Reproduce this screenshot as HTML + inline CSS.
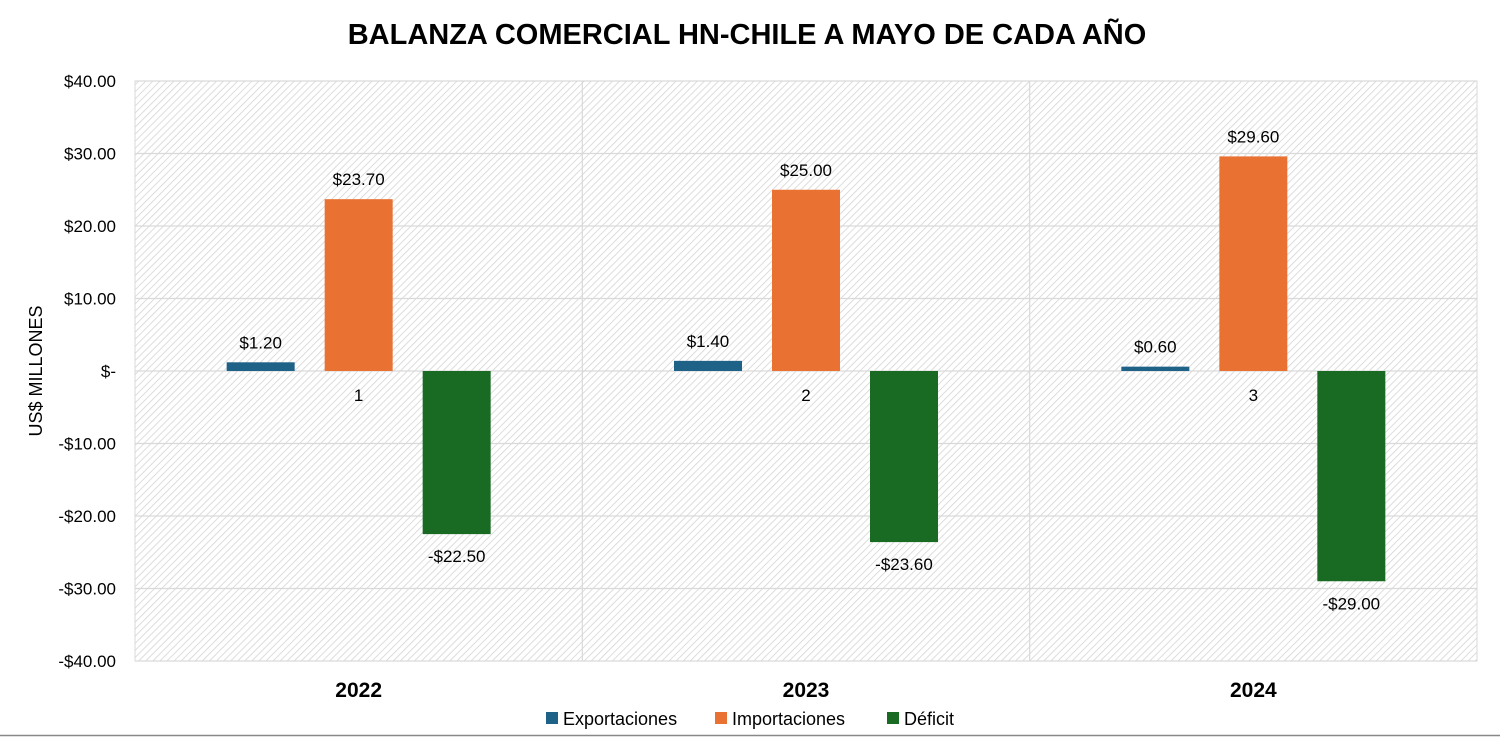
<!DOCTYPE html>
<html><head><meta charset="utf-8"><style>
body{margin:0;background:#fff;}
svg{display:block;font-family:"Liberation Sans",Arial,sans-serif;}
</style></head><body>
<svg id="c" width="1500" height="737">
<defs><pattern id="hatch" width="5" height="5" patternUnits="userSpaceOnUse" patternTransform="rotate(45)">
<rect width="5" height="5" fill="#fff"/><line x1="0" y1="0" x2="0" y2="5" stroke="#d4d4d4" stroke-width="1.6"/></pattern></defs>
<text x="747" y="44" text-anchor="middle" font-size="29" font-weight="bold" fill="#000">BALANZA COMERCIAL HN-CHILE A MAYO DE CADA AÑO</text>
<rect x="135" y="81" width="1342" height="580" fill="url(#hatch)" stroke="#d9d9d9"/>
<g id="g"></g>
<text transform="translate(42,371) rotate(-90)" text-anchor="middle" font-size="18" fill="#000">US$ MILLONES</text>
<g>
<rect x="546" y="712" width="12" height="12" fill="#1f6288"/>
<text x="563" y="725" font-size="18">Exportaciones</text>
<rect x="715" y="712" width="12" height="12" fill="#e97132"/>
<text x="732" y="725" font-size="18">Importaciones</text>
<rect x="887" y="712" width="12" height="12" fill="#196b24"/>
<text x="904" y="725" font-size="18">Déficit</text>
</g>
<line x1="0" y1="735.5" x2="1500" y2="735.5" stroke="#888" stroke-width="1.5"/>
</svg>
<script>
const years=["2022","2023","2024"];
const indexLabels=["1","2","3"];
const exportaciones=[1.2,1.4,0.6];
const importaciones=[23.7,25.0,29.6];
const deficit=[-22.5,-23.6,-29.0];
const yTicks=[40,30,20,10,0,-10,-20,-30,-40];
const seriesNames=["exportaciones","importaciones","deficit"];
const NS="http://www.w3.org/2000/svg";
const g=document.getElementById('g');
const X0=135,X1=1477,Y0=81,Y1=661,ymin=-40,ymax=40;
const y=v=>Y0+(ymax-v)/(ymax-ymin)*(Y1-Y0);
const gw=(X1-X0)/years.length;
const xc=i=>X0+gw*(i+0.5);
function mk(t,a){const e=document.createElementNS(NS,t);for(const k in a)e.setAttribute(k,a[k]);g.appendChild(e);return e;}
const fmt=v=>v===0?"$-":(v<0?"-$":"$")+Math.abs(v).toFixed(2);
yTicks.forEach(t=>{
 const l=mk('line',{x1:X0,x2:X1,y1:y(t),y2:y(t),stroke:'#d9d9d9','stroke-width':1.2});
 
 
 const tx=mk('text',{x:116,y:y(t)+6,'text-anchor':'end','font-size':17});
 tx.textContent=t===0?"$-":(t<0?"-$":"$")+Math.abs(t).toFixed(2);
 
 
});
for(let i=1;i<years.length;i++){
 const l=mk('line',{x1:X0+gw*i,x2:X0+gw*i,y1:Y0,y2:Y1,stroke:'#d9d9d9','stroke-width':1.2});
 
 
}
const colors=["#1f6288","#e97132","#196b24"];
const data=[exportaciones,importaciones,deficit];
const bw=68,step=98;
years.forEach((yr,i)=>{
 data.forEach((s,j)=>{
  const v=s[i],cx=xc(i)+(j-1)*step;
  const top=Math.min(y(v),y(0)),h=Math.abs(y(v)-y(0));
  const r=mk('rect',{x:cx-bw/2,y:top,width:bw,height:Math.max(h,1),fill:colors[j]});
  
  
  const ly=v>=0?y(v)-14:y(v)+28;
  const t=mk('text',{x:cx,y:ly,'text-anchor':'middle','font-size':17});
  t.textContent=fmt(v);
  
  
 });
 const il=mk('text',{x:xc(i),y:y(0)+30,'text-anchor':'middle','font-size':17});
 il.textContent=indexLabels[i];
 
 
 const yl=mk('text',{x:xc(i),y:697,'text-anchor':'middle','font-size':21,'font-weight':'bold'});
 yl.textContent=yr;
 
 
});
</script>
</body></html>
